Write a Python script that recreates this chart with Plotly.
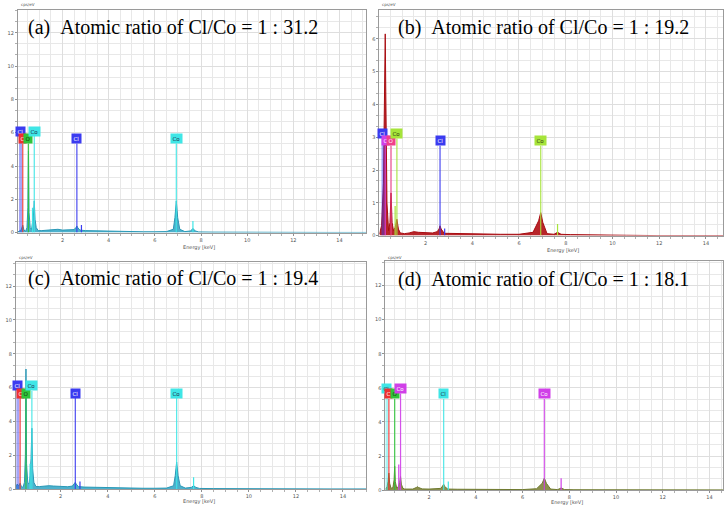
import plotly.graph_objects as go

W, H = 724, 509

# ---------------- spectra (energy in keV, intensity in cps/eV) ----------------
energy_a = [0.07, 0.15, 0.22, 0.277, 0.33, 0.40, 0.46, 0.50, 0.525, 0.55, 0.60, 0.66, 0.70, 0.74, 0.776,
            0.81, 0.86, 0.95, 1.10, 1.30, 1.50, 1.70, 1.80, 2.00, 2.30, 2.50, 2.58, 2.62, 2.66, 2.75,
            3.00, 3.50, 4.00, 4.50, 5.00, 5.50, 6.00, 6.50, 6.80, 6.87, 6.93, 6.99, 7.08, 7.30, 7.55,
            7.65, 7.75, 7.90, 8.50, 9.50, 10.5, 12.0, 13.5, 15.17]
counts_a = [0.05, 0.1, 0.2, 0.45, 0.15, 0.08, 0.3, 1.5, 4.9, 1.2, 0.3, 0.2, 0.6, 1.0, 1.9,
            0.8, 0.3, 0.12, 0.12, 0.15, 0.2, 0.22, 0.2, 0.15, 0.15, 0.18, 0.3, 0.4, 0.3, 0.15,
            0.12, 0.1, 0.08, 0.07, 0.06, 0.05, 0.05, 0.06, 0.2, 0.9, 1.9, 0.9, 0.2, 0.06, 0.1,
            0.25, 0.1, 0.04, 0.03, 0.02, 0.02, 0.01, 0.01, 0.01]

energy_b = [0.03, 0.12, 0.2, 0.25, 0.277, 0.30, 0.35, 0.42, 0.48, 0.525, 0.57, 0.63, 0.70, 0.776, 0.84,
            0.92, 1.1, 1.3, 1.5, 1.7, 2.0, 2.3, 2.5, 2.58, 2.62, 2.67, 2.8, 3.2, 3.8, 4.5,
            5.2, 6.0, 6.6, 6.84, 6.93, 7.02, 7.2, 7.5, 7.65, 7.8, 8.2, 9.0, 10.0, 10.6, 12.0, 14.74]
counts_b = [0.05, 0.3, 1.6, 4.6, 6.15, 4.4, 1.0, 0.15, 0.4, 1.3, 0.4, 0.15, 0.25, 0.5, 0.2,
            0.08, 0.06, 0.08, 0.12, 0.1, 0.08, 0.08, 0.12, 0.2, 0.3, 0.2, 0.07, 0.06, 0.05, 0.05,
            0.04, 0.04, 0.1, 0.45, 0.7, 0.4, 0.06, 0.04, 0.1, 0.04, 0.03, 0.03, 0.02, 0.01, 0.0, 0.0]

energy_c = [0.10, 0.15, 0.22, 0.277, 0.33, 0.40, 0.46, 0.50, 0.525, 0.55, 0.60, 0.66, 0.70, 0.74, 0.776,
            0.81, 0.86, 0.95, 1.10, 1.30, 1.50, 1.70, 2.00, 2.30, 2.50, 2.58, 2.62, 2.66, 2.75, 3.00,
            3.50, 4.00, 4.50, 5.00, 5.50, 6.00, 6.50, 6.80, 6.87, 6.93, 6.99, 7.08, 7.30, 7.55, 7.65,
            7.75, 7.90, 8.50, 9.50, 10.5, 12.0, 13.5, 15.0]
counts_c = [0.1, 0.3, 0.2, 0.35, 0.15, 0.1, 0.4, 2.0, 7.1, 1.5, 0.4, 0.3, 0.8, 1.8, 3.6,
            1.2, 0.4, 0.15, 0.15, 0.18, 0.2, 0.18, 0.15, 0.14, 0.18, 0.3, 0.4, 0.3, 0.15, 0.12,
            0.1, 0.08, 0.07, 0.06, 0.05, 0.05, 0.06, 0.2, 0.8, 1.6, 0.8, 0.2, 0.06, 0.1, 0.2,
            0.1, 0.04, 0.03, 0.02, 0.02, 0.01, 0.01, 0.01]

energy_d = [0.13, 0.2, 0.24, 0.277, 0.31, 0.37, 0.45, 0.50, 0.525, 0.55, 0.61, 0.68, 0.74, 0.776, 0.81,
            0.87, 0.95, 1.1, 1.3, 1.45, 1.5, 1.55, 1.7, 2.0, 2.3, 2.5, 2.58, 2.62, 2.67, 2.8,
            3.2, 3.8, 4.5, 5.2, 6.0, 6.6, 6.84, 6.93, 7.02, 7.2, 7.5, 7.65, 7.8, 8.2, 9.0,
            10.0, 11.5, 13.0, 14.58]
counts_d = [0.05, 0.2, 0.5, 1.0, 0.4, 0.1, 0.15, 0.6, 1.4, 0.5, 0.12, 0.2, 0.45, 0.8, 0.35,
            0.12, 0.06, 0.05, 0.06, 0.15, 0.2, 0.15, 0.07, 0.06, 0.06, 0.1, 0.25, 0.35, 0.2, 0.06,
            0.05, 0.04, 0.04, 0.03, 0.03, 0.08, 0.4, 0.7, 0.4, 0.06, 0.03, 0.12, 0.03, 0.02, 0.02,
            0.01, 0.01, 0.01, 0.01]

# ---------------- element identification lines ----------------
marker_elems = ["Cl", "C", "O", "Co", "Cl", "Co"]
marker_energy = [0.18, 0.277, 0.525, 0.776, 2.622, 6.93]
label_y_a = [6.1, 5.65, 5.65, 6.1, 5.65, 5.65]
label_y_b = [3.12, 2.9, 2.9, 3.12, 2.9, 2.9]
label_y_c = [6.1, 5.68, 5.68, 6.1, 5.68, 5.68]
label_y_d = [5.97, 5.64, 5.64, 5.97, 5.64, 5.64]

# secondary (minor) lines
sec_elems = ["Co", "Cl", "Co"]
sec_energy = [0.70, 2.82, 7.65]
sec_height_a = [1.5, 0.45, 0.7]
sec_height_b = [0.9, 0.22, 0.35]
sec_height_c = [1.5, 0.45, 0.7]
sec_height_d = [1.5, 0.5, 0.7]

titles = ["(a)\u00a0\u00a0Atomic ratio of Cl/Co = 1 : 31.2",
          "(b)\u00a0\u00a0Atomic ratio of Cl/Co = 1 : 19.2",
          "(c)\u00a0\u00a0Atomic ratio of Cl/Co = 1 : 19.4",
          "(d)\u00a0\u00a0Atomic ratio of Cl/Co = 1 : 18.1"]

y_ticks_big = [0, 2, 4, 6, 8, 10, 12]
y_ticks_b = [0, 1, 2, 3, 4, 5, 6]
x_ticks = [2, 4, 6, 8, 10, 12, 14]

# ---------------- styling ----------------
BLUE, RED, GREEN, CYAN = "#3b3bf0", "#ee3030", "#2fc43a", "#3fe6e6"
MAGENTA, PINK, LIME = "#d040e8", "#f0408a", "#a6e43a"

panels = [
    dict(x=energy_a, y=counts_a, ly=label_y_a, sh=sec_height_a, yt=y_ticks_big,
         line="#2a98b6", fill="rgba(58,168,200,0.9)",
         colors={"Cl": BLUE, "C": RED, "O": GREEN, "Co": CYAN},
         px=(18, 367), py=(10, 234), xr=(0.07, 15.17), yr=(0, 13.37), gap=0.3,
         ydt=2, yminor=2 / 3, title_xy=(26, 28), energy_y=249, cps_xy=(19, 5)),
    dict(x=energy_b, y=counts_b, ly=label_y_b, sh=sec_height_b, yt=y_ticks_b,
         line="#a80d12", fill="rgba(178,18,24,0.92)",
         colors={"Cl": BLUE, "C": MAGENTA, "O": PINK, "Co": LIME},
         px=(380, 724), py=(10, 237), xr=(0.03, 14.73), yr=(0, 6.88), gap=0.16,
         ydt=1, yminor=1 / 3, title_xy=(397, 28), energy_y=252, cps_xy=(381, 5)),
    dict(x=energy_c, y=counts_c, ly=label_y_c, sh=sec_height_c, yt=y_ticks_big,
         line="#2a98b6", fill="rgba(58,168,200,0.9)",
         colors={"Cl": BLUE, "C": RED, "O": GREEN, "Co": CYAN},
         px=(16, 367), py=(264, 492), xr=(0.1, 15.0), yr=(0, 13.4), gap=0.3,
         ydt=2, yminor=2 / 3, title_xy=(26, 280), energy_y=504, cps_xy=(17, 259)),
    dict(x=energy_d, y=counts_d, ly=label_y_d, sh=sec_height_d, yt=y_ticks_big,
         line="#6f7a30", fill="rgba(128,132,58,0.9)",
         colors={"Cl": CYAN, "C": RED, "O": GREEN, "Co": MAGENTA},
         px=(386, 724), py=(263, 493), xr=(0.13, 14.58), yr=(0, 13.42), gap=0.3,
         ydt=2, yminor=2 / 3, title_xy=(397, 281), energy_y=505.5, cps_xy=(387, 259)),
]

TEXT_COL = {BLUE: "white", RED: "white", MAGENTA: "white", PINK: "white",
            GREEN: "#103010", CYAN: "#203050", LIME: "#304010"}

fig = go.Figure()
annotations = []
layout = dict(width=W, height=H, margin=dict(l=0, r=0, t=0, b=0),
              paper_bgcolor="white", plot_bgcolor="white", showlegend=False)

for i, p in enumerate(panels):
    sfx = "" if i == 0 else str(i + 1)
    xa, ya = "x" + sfx, "y" + sfx
    assert len(p["x"]) == len(p["y"])

    # spectrum
    fig.add_trace(go.Scatter(x=p["x"], y=p["y"], xaxis=xa, yaxis=ya, mode="lines",
                             line=dict(color=p["line"], width=1), fill="tozeroy",
                             fillcolor=p["fill"], hoverinfo="skip"))
    # identification lines + labels
    for el, e, ly in zip(marker_elems, marker_energy, p["ly"]):
        col = p["colors"][el]
        wide = (el == "Cl" and e < 0.5)
        fig.add_trace(go.Scatter(x=[e, e], y=[0, ly - p["gap"]], xaxis=xa, yaxis=ya, mode="lines",
                                 line=dict(color=col, width=3 if wide else 1.2),
                                 opacity=0.45 if wide else 0.9, hoverinfo="skip"))
        annotations.append(dict(x=e, y=ly, xref=xa, yref=ya, text=el, showarrow=False,
                                bgcolor=col, borderpad=1.5, xanchor="center", yanchor="middle",
                                font=dict(size=5.5, color=TEXT_COL[col], family="DejaVu Sans")))
    for el, e, h in zip(sec_elems, sec_energy, p["sh"]):
        col = p["colors"][el]
        fig.add_trace(go.Scatter(x=[e, e], y=[0, h], xaxis=xa, yaxis=ya, mode="lines",
                                 line=dict(color=col, width=1.2), hoverinfo="skip"))

    x0, x1 = p["px"]
    ytop, ybot = p["py"]
    common = dict(showline=True, mirror=True, linecolor="#9a9a9a", linewidth=1,
                  showgrid=True, gridcolor="#dedede", gridwidth=1, zeroline=False,
                  ticks="outside", ticklen=2, tickcolor="#909090",
                  tickfont=dict(size=5, color="#555555", family="DejaVu Sans"))
    layout["xaxis" + sfx] = dict(common, domain=[x0 / W, x1 / W], range=list(p["xr"]),
                                 anchor=ya, tickvals=x_ticks,
                                 minor=dict(dtick=0.5, tick0=0, showgrid=True, gridcolor="#e8e8e8",
                                            ticks="outside", ticklen=2, tickcolor="#b0b0b0"))
    layout["yaxis" + sfx] = dict(common, domain=[1 - ybot / H, 1 - ytop / H], range=list(p["yr"]),
                                 anchor=xa, tickvals=p["yt"],
                                 minor=dict(dtick=p["yminor"], tick0=0, showgrid=True, gridcolor="#e8e8e8",
                                            ticks="outside", ticklen=2, tickcolor="#b0b0b0"))

    tx, ty = p["title_xy"]
    annotations.append(dict(x=tx / W, y=1 - ty / H, xref="paper", yref="paper",
                            text=titles[i], showarrow=False, xanchor="left", yanchor="middle",
                            font=dict(family="Liberation Serif", size=20, color="black")))
    annotations.append(dict(x=7.9, y=1 - p["energy_y"] / H,
                            xref=xa, yref="paper", text="Energy [keV]", showarrow=False,
                            xanchor="center", yanchor="middle",
                            font=dict(size=5, color="#555555", family="DejaVu Sans")))
    cx, cy = p["cps_xy"]
    annotations.append(dict(x=cx / W, y=1 - cy / H, xref="paper", yref="paper", text="cps/eV",
                            showarrow=False, xanchor="left", yanchor="middle",
                            font=dict(size=4, color="#555555", family="DejaVu Sans")))

layout["annotations"] = annotations
fig.update_layout(**layout)
fig.write_html("out.html", config={"displayModeBar": False},
               post_script="document.body.style.margin='0px';document.body.style.overflow='hidden';")
